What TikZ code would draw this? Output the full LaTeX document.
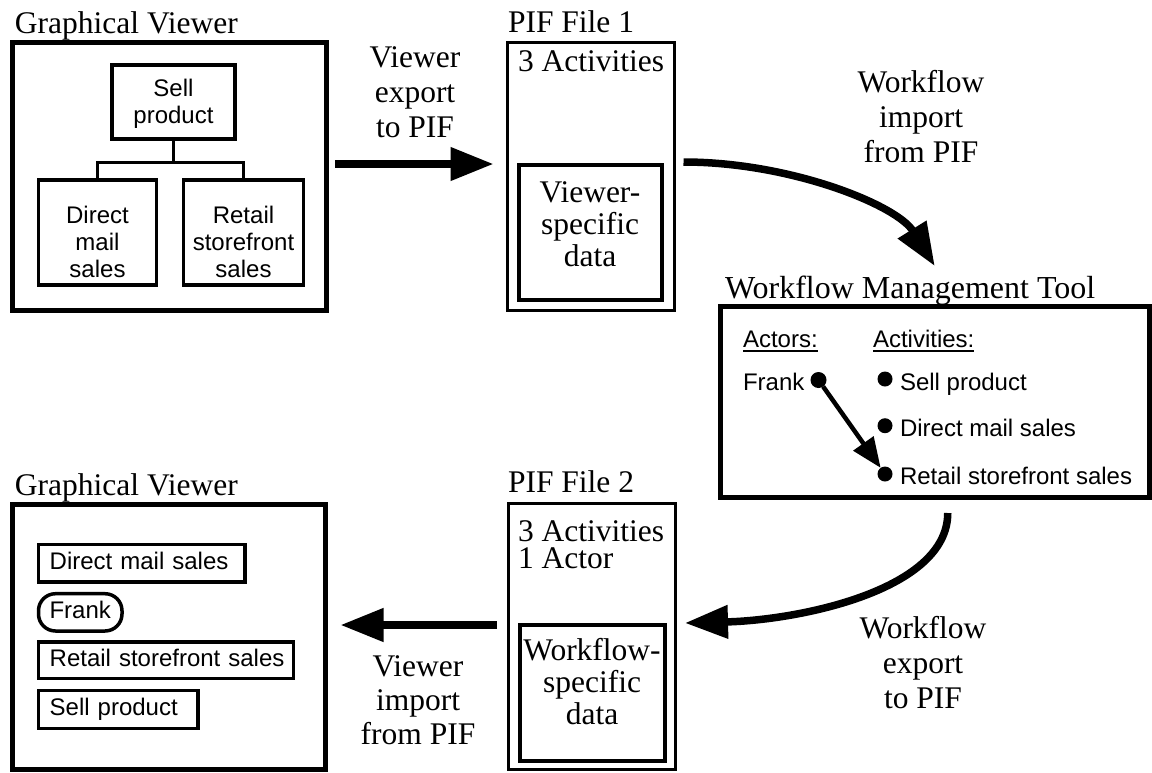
\documentclass[tikz,border=0pt]{standalone}
\usepackage{fontspec}
\setmainfont{Liberation Serif}
\setsansfont{Liberation Sans}
\usetikzlibrary{arrows.meta}
\newcommand\myul[1]{\setbox0=\hbox{#1}\rlap{\rule[-5pt]{\wd0}{2.5pt}}\box0}
\begin{document}
\begin{tikzpicture}[x=1pt, y=-1pt,
  every node/.style={outer sep=0pt},
  lbl/.style={font=\fontsize{31.5}{35}\selectfont, inner sep=0pt, align=center},
  datatxt/.style={font=\fontsize{31.5}{32}\selectfont, inner sep=0pt, align=center},
  ttl/.style={font=\fontsize{31.5}{35}\selectfont, inner sep=0pt, anchor=base west},
  sanstxt/.style={font=\sffamily\fontsize{24}{27}\selectfont, inner sep=0pt},
  sansline/.style={font=\sffamily\fontsize{24}{27}\selectfont, inner sep=0pt, anchor=base west},
  bigbox/.style={draw, line width=5pt, inner sep=0pt},
  pifbox/.style={draw, line width=3pt, inner sep=0pt},
  databox/.style={draw, line width=4pt, inner sep=0pt},
  itembox/.style={draw, line width=3.5pt, inner sep=0pt},
  listbox/.style={draw, line width=3.5pt, anchor=west, inner xsep=11pt, inner ysep=0pt,
    font=\sffamily\fontsize{24}{27}\selectfont, align=left, text height=17.2pt, text depth=5pt},
  treeline/.style={line width=3pt},
  dot/.style={circle, fill, inner sep=0pt, minimum size=#1},
  bigarrow/.style={line width=7.5pt, -{Triangle[length=43pt,width=32pt]}},
  midarrow/.style={line width=4.5pt, -{Triangle[length=30pt,width=24pt]}}
]
\useasboundingbox (0,0) rectangle (1152,772);

% ---------- top-left Graphical Viewer ----------
\node[bigbox, minimum width=314pt, minimum height=268pt] (gv1) at (169,176) {};
\node[ttl] (gv1t) at (15,33) {Graphical Viewer};
\node[itembox, minimum width=123pt, minimum height=74pt] (sell) at (173.5,102) {};
\node[sanstxt, align=center] (sellt) at (173.5,104) {Sell\\product};
\node[itembox, minimum width=118pt, minimum height=105pt] (direct) at (97.5,232.5) {};
\node[sanstxt, align=center] (directt) at (97.5,241.7) {Direct\\mail\\sales};
\node[itembox, minimum width=120pt, minimum height=105pt] (retail) at (243.5,232.5) {};
\node[sanstxt, align=center] (retailt) at (243.5,241.7) {Retail\\storefront\\sales};
\coordinate (bus) at (0,162);
\draw[treeline] (sell.south) -- (sell.south |- bus) -| (direct.north);
\draw[treeline] (sell.south |- bus) -| (retail.north);

% ---------- PIF File 1 ----------
\node[pifbox, minimum width=167pt, minimum height=268pt] (pif1) at (591,176) {};
\node[ttl] (pif1t) at (508,32) {PIF File 1};
\node[ttl] (pif1a) at (518,71.7) {3 Activities};
\node[databox, minimum width=143pt, minimum height=135.5pt] (pif1d) at (590.5,232.25) {};
\node[datatxt] (pif1dt) at (590,224.3) {Viewer-\\specific\\data};

% ---------- Workflow Management Tool ----------
\node[bigbox, minimum width=428.5pt, minimum height=191pt] (wmt) at (934.75,401.5) {};
\node[ttl, font=\fontsize{32}{35}\selectfont] (wmtt) at (725,298) {Workflow Management Tool};
\node[sansline] (actors) at (743,347) {\myul{Actors:}};
\node[sansline] (activities) at (873,347) {\myul{Activities:}};
\node[sansline] (frank) at (743,390.5) {Frank};
\node[dot=16pt] (fdot) at (818.5,380) {};
\node[dot=15pt] (b1) at (885,379) {};
\node[dot=15pt] (b2) at (885,425.7) {};
\node[dot=15pt] (b3) at (885,474) {};
\node[sansline] (a1) at (900,390.5) {Sell product};
\node[sansline] (a2) at (900,436.5) {Direct mail sales};
\node[sansline] (a3) at (900,484) {Retail storefront sales};
\draw[midarrow] (fdot) -- (b3);

% ---------- PIF File 2 ----------
\node[pifbox, minimum width=167pt, minimum height=266pt] (pif2) at (591.5,636) {};
\node[ttl] (pif2t) at (508,492.7) {PIF File 2};
\node[font=\fontsize{31.5}{27.6}\selectfont, inner sep=0pt, align=left, anchor=north west]
      (pif2a) at (518,520.2) {3 Activities\\1 Actor};
\node[databox, minimum width=145pt, minimum height=136pt] (pif2d) at (592.5,693) {};
\node[datatxt] (pif2dt) at (592,681.7) {Workflow-\\specific\\data};

% ---------- bottom-left Graphical Viewer ----------
\node[bigbox, minimum width=313pt, minimum height=264.5pt] (gv2) at (169,636.75) {};
\node[ttl] (gv2t) at (15,495) {Graphical Viewer};
\node[listbox, text width=184.3pt, minimum height=37.3pt] (l1) at (38.7,563.35) {\mbox{Direct mail sales}};
\node[draw, line width=3.5pt, rounded corners=17pt, minimum width=83.5pt, minimum height=37.3pt,
      inner sep=0pt, font=\sffamily\fontsize{24}{27}\selectfont, text height=17.2pt, text depth=5pt]
      (l2) at (80.25,612.35) {Frank};
\node[listbox, text width=233pt, minimum height=36.7pt] (l3) at (38.7,660.35) {\mbox{Retail storefront sales}};
\node[listbox, text width=137.3pt, minimum height=38.4pt] (l4) at (38.7,709.5) {\mbox{Sell product}};

% ---------- arrows and labels ----------
\draw[bigarrow] ([shift={(9pt,12pt)}]gv1.east) -- ([shift={(-14pt,12pt)}]pif1.west);
\node[lbl] (lab1) at (415,92.25) {Viewer\\export\\to PIF};

\draw[bigarrow] ([shift={(9pt,14pt)}]pif1.east) .. controls +(107,0) and +(-38,-61) .. ([yshift=40pt]wmt.north);
\node[lbl] (lab2) at (921,116.2) {Workflow\\import\\from PIF};

\draw[bigarrow] ([shift={(13pt,-16pt)}]wmt.south) .. controls +(0,77) and +(115,-3) .. ([shift={(10pt,13pt)}]pif2.east);
\node[lbl] (lab3) at (923,662.5) {Workflow\\export\\to PIF};

\coordinate (a4s) at ([shift={(-11pt,11pt)}]pif2.west);
\draw[bigarrow] (a4s) -- ([xshift=15pt]gv2.east |- a4s);
\node[lbl, font=\fontsize{31.5}{34}\selectfont] (lab4) at (418,700) {Viewer\\import\\from PIF};
\end{tikzpicture}
\end{document}
